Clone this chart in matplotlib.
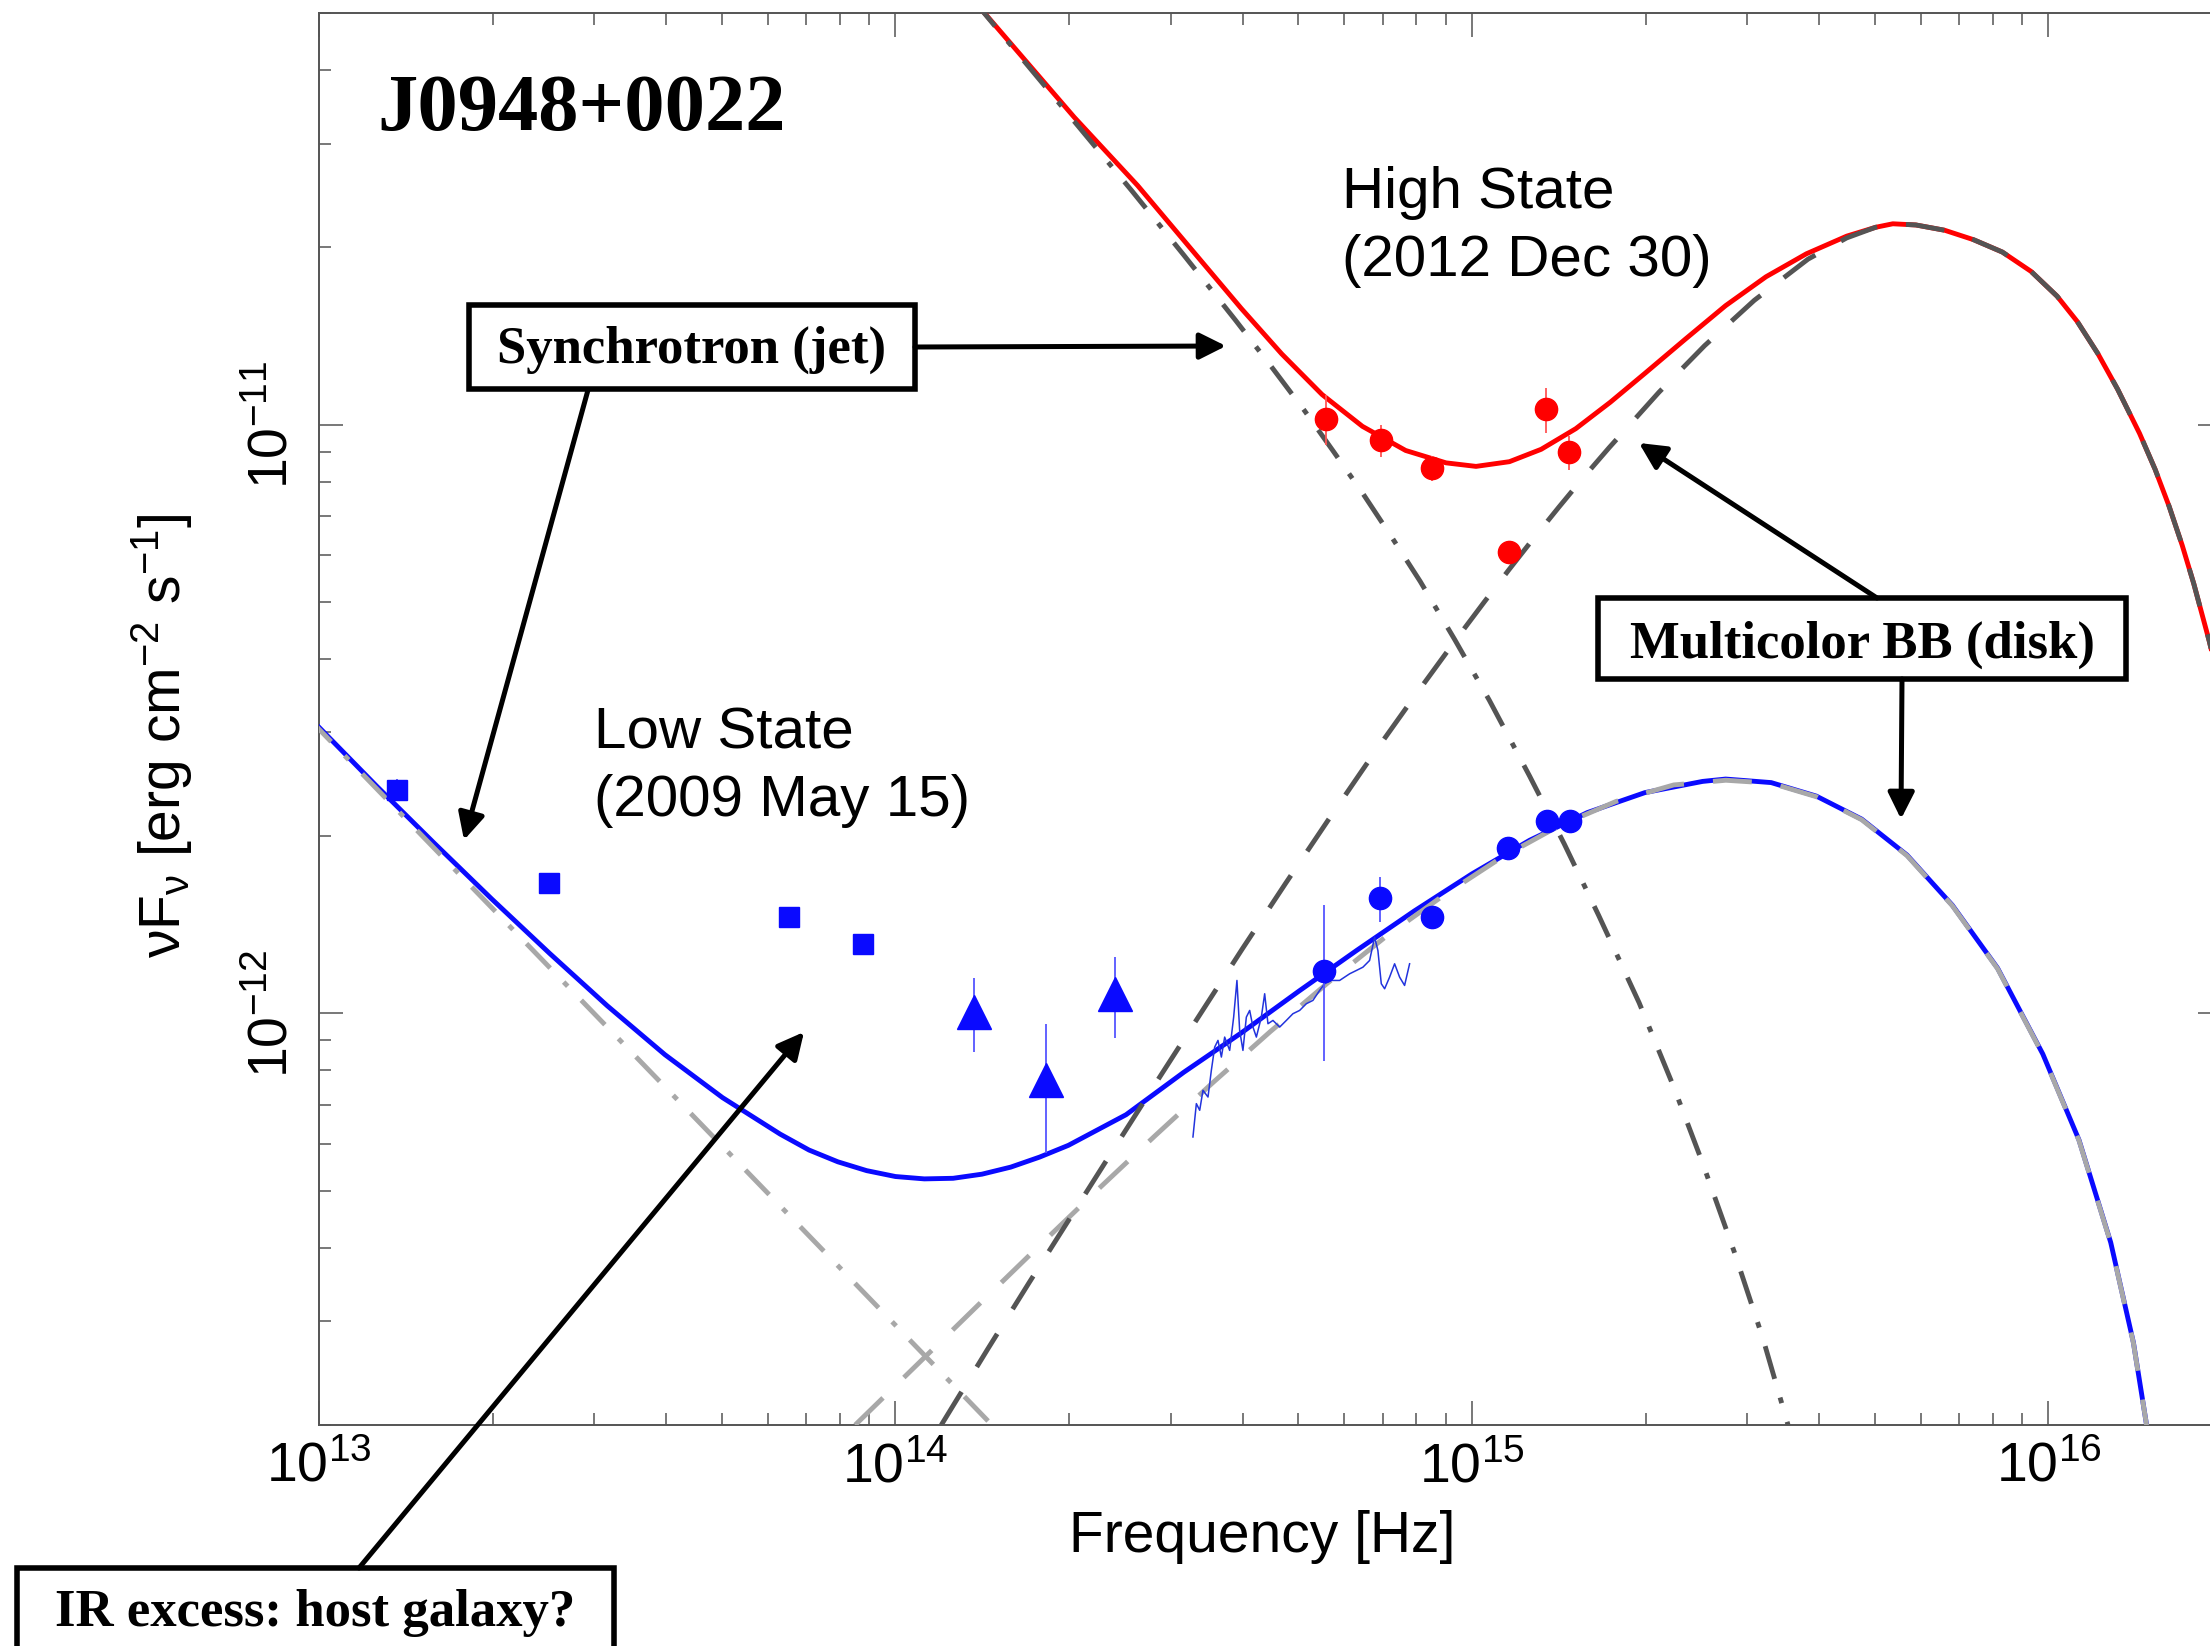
import numpy as np
import matplotlib
matplotlib.use("Agg")
import matplotlib.pyplot as plt
from matplotlib.patches import Rectangle, FancyArrowPatch
from matplotlib.ticker import NullFormatter, FixedLocator, LogFormatterSciNotation

plt.rcParams['font.family'] = ['Liberation Sans', 'DejaVu Sans']
plt.rcParams['mathtext.fontset'] = 'custom'
plt.rcParams['mathtext.rm'] = 'Liberation Sans'
plt.rcParams['mathtext.it'] = 'Liberation Sans:italic'
plt.rcParams['mathtext.default'] = 'regular'

# ---------------- data ----------------
# high state (2012 Dec 30) photometry
hi_nu = [5.58e14, 6.95e14, 8.54e14, 1.16e15, 1.346e15, 1.475e15]
hi_flux = [1.022e-11, 9.40e-12, 8.43e-12, 6.07e-12, 1.061e-11, 8.98e-12]
hi_err = [1.0e-12, 5.8e-13, 4.0e-13, 2.5e-13, 9.4e-13, 6.0e-13]

# low state (2009 May 15) photometry
lo_sq_nu = [1.365e13, 2.502e13, 6.523e13, 8.80e13]
lo_sq_flux = [2.398e-12, 1.664e-12, 1.458e-12, 1.313e-12]
lo_sq_err = [1.0e-13, 4e-14, 3e-14, 3e-14]

lo_tri_nu = [1.366e14, 1.822e14, 2.399e14]
lo_tri_flux = [1.004e-12, 7.70e-13, 1.077e-12]
lo_tri_err = [1.45e-13, 1.9e-13, 1.7e-13]

lo_ci_nu = [5.548e14, 6.928e14, 8.54e14, 1.157e15, 1.351e15, 1.480e15]
lo_ci_flux = [1.180e-12, 1.568e-12, 1.457e-12, 1.906e-12, 2.123e-12, 2.123e-12]
lo_ci_err = [3.5e-13, 1.4e-13, 5e-14, 8e-14, 8e-14, 8e-14]

# tick positions
x_ticks = [1e13, 1e14, 1e15, 1e16]
y_ticks = [1e-12, 1e-11]

# low state optical spectrum (log10 nu, log10 nuFnu)
spec_lognu = [14.516, 14.5219, 14.5277, 14.5334, 14.5421, 14.5479, 14.5537, 14.5594,
              14.5653, 14.571, 14.5797, 14.5866, 14.5923, 14.597, 14.6027, 14.6086,
              14.6144, 14.6201, 14.626, 14.6346, 14.6404, 14.6461, 14.6548, 14.6664,
              14.678, 14.6894, 14.7011, 14.7127, 14.7241, 14.7357, 14.7444, 14.756,
              14.7704, 14.7878, 14.7994, 14.8108, 14.8224, 14.8311, 14.8368, 14.8427,
              14.8485, 14.8571, 14.8658, 14.8745, 14.8831, 14.8918]
spec_logf = [-12.2098, -12.1532, -12.1645, -12.1306, -12.142, -12.0967, -12.0572, -12.0458,
             -12.0741, -12.0402, -12.0628, -12.0063, -11.944, -12.0288, -12.0628, -12.0063,
             -11.9949, -12.0232, -12.0402, -12.0063, -11.9666, -12.0175, -12.0119, -12.0232,
             -12.0119, -12.0005, -11.9949, -11.9835, -11.9779, -11.961, -11.9496, -11.944,
             -11.944, -11.9327, -11.9271, -11.9215, -11.9101, -11.8706, -11.8931, -11.9496,
             -11.9581, -11.9384, -11.9157, -11.9384, -11.9525, -11.9157]

# high state model: synchrotron (jet)
hi_sync_lognu = [14.135, 14.31, 14.41, 14.50, 14.59, 14.65, 14.71, 14.76, 14.81, 14.86,
                 14.91, 14.97, 15.03, 15.10, 15.16, 15.22, 15.29, 15.35, 15.40, 15.455,
                 15.505, 15.545, 15.553]
hi_sync_logf = [-10.279, -10.485, -10.603, -10.712, -10.823, -10.899, -10.977, -11.046,
                -11.116, -11.190, -11.266, -11.365, -11.468, -11.597, -11.712, -11.834,
                -11.982, -12.125, -12.254, -12.405, -12.553, -12.688, -12.715]

# high state model: multicolor black body (disk)
hi_disk_lognu = [14.0794, 14.16, 14.2313, 14.3069, 14.3742, 14.4498, 14.5254, 14.6012,
                 14.6768, 14.7524, 14.828, 14.90, 14.9716, 15.0215, 15.0645, 15.1006,
                 15.1509, 15.194, 15.2381, 15.3244, 15.4035, 15.4897, 15.583, 15.65,
                 15.70, 15.73, 15.77, 15.82, 15.87, 15.92, 15.97, 16.015, 16.05, 16.086,
                 16.12, 16.158, 16.185, 16.209, 16.232, 16.252, 16.279, 16.305]
hi_disk_logf = [-12.699, -12.570, -12.458, -12.341, -12.237, -12.121, -12.006, -11.891,
                -11.779, -11.669, -11.561, -11.462, -11.366, -11.301, -11.246, -11.201,
                -11.140, -11.089, -11.039, -10.945, -10.866, -10.789, -10.719, -10.683,
                -10.665, -10.659, -10.661, -10.670, -10.686, -10.707, -10.740, -10.782,
                -10.825, -10.880, -10.940, -11.015, -11.076, -11.138, -11.205, -11.270,
                -11.368, -11.475]

# high state model: total
hi_tot_lognu = [14.135, 14.31, 14.42, 14.525, 14.60, 14.67, 14.74, 14.81, 14.885, 14.955,
                15.007, 15.065, 15.12, 15.18, 15.24, 15.30, 15.37, 15.44, 15.51, 15.58,
                15.65, 15.70, 15.73, 15.77, 15.82, 15.87, 15.92, 15.97, 16.015, 16.05,
                16.086, 16.12, 16.158, 16.185, 16.209, 16.232, 16.252, 16.279, 16.305]
hi_tot_logf = [-10.279, -10.478, -10.594, -10.716, -10.803, -10.880, -10.949, -11.003,
               -11.044, -11.065, -11.071, -11.063, -11.042, -11.007, -10.962, -10.913,
               -10.855, -10.798, -10.749, -10.710, -10.680, -10.665, -10.659, -10.661,
               -10.670, -10.686, -10.707, -10.740, -10.782, -10.825, -10.880, -10.940,
               -11.015, -11.076, -11.138, -11.205, -11.270, -11.368, -11.475]

# low state model: synchrotron (jet)
lo_sync_lognu = [12.98, 13.4, 13.8, 14.19]
lo_sync_logf = [-11.497, -11.922, -12.327, -12.722]

# low state model: multicolor black body (disk)
lo_disk_lognu = [13.93, 14.06, 14.15, 14.25, 14.35, 14.45, 14.55, 14.65, 14.75, 14.85,
                 14.95, 15.05, 15.15, 15.25, 15.35, 15.4404, 15.519, 15.5975, 15.676,
                 15.7546, 15.8331, 15.9117, 15.9902, 16.053, 16.108, 16.1474, 16.172]
lo_disk_logf = [-12.699, -12.575, -12.489, -12.394, -12.300, -12.208, -12.118, -12.031,
                -11.948, -11.870, -11.800, -11.736, -11.682, -11.640, -11.612, -11.604,
                -11.609, -11.632, -11.671, -11.732, -11.817, -11.924, -12.070, -12.216,
                -12.390, -12.560, -12.710]

# low state model: total
lo_tot_lognu = [12.98, 13.0, 13.1, 13.2, 13.3, 13.4, 13.5, 13.6, 13.7, 13.8, 13.85, 13.9,
                13.95, 14.0, 14.05, 14.1, 14.15, 14.2, 14.25, 14.3, 14.4, 14.5, 14.6, 14.7,
                14.8, 14.9, 15.0, 15.1, 15.2, 15.3, 15.4, 15.44, 15.519, 15.5975, 15.676,
                15.7546, 15.8331, 15.9117, 15.9902, 16.053, 16.108, 16.1474, 16.172]
lo_tot_logf = [-11.494, -11.514, -11.614, -11.711, -11.806, -11.898, -11.987, -12.070,
               -12.143, -12.205, -12.232, -12.252, -12.267, -12.277, -12.281, -12.280,
               -12.273, -12.261, -12.244, -12.224, -12.172, -12.100, -12.033, -11.962,
               -11.893, -11.826, -11.763, -11.706, -11.659, -11.625, -11.606, -11.602,
               -11.608, -11.631, -11.670, -11.731, -11.816, -11.923, -12.069, -12.215,
               -12.389, -12.559, -12.710]

W, H = 2210, 1646


def fxy(x, y):
    # pixel position (from top-left) -> figure fraction
    return x / W, 1 - y / H


fig = plt.figure(figsize=(W / 100, H / 100), dpi=100)
ax = fig.add_axes([319 / W, 1 - 1425 / H, (2222 - 319) / W, (1425 - 13) / H])


def lin(a):
    return 10 ** np.array(a)


dark = '#545454'
light = '#a8a8a8'
lw = 3.5

ax.plot(lin(lo_tot_lognu), lin(lo_tot_logf), color='#0a0aff', lw=lw, zorder=3)
ax.plot(lin(lo_sync_lognu), lin(lo_sync_logf), color=light, lw=lw, dashes=(7, 4, 1.2, 4), zorder=4)
ax.plot(lin(lo_disk_lognu), lin(lo_disk_logf), color=light, lw=lw, dashes=(8, 6), zorder=4)

ax.plot(lin(hi_tot_lognu), lin(hi_tot_logf), color='#ff0000', lw=lw, zorder=3)
ax.plot(lin(hi_sync_lognu), lin(hi_sync_logf), color=dark, lw=lw, dashes=(7, 4, 1.2, 4), zorder=4)
ax.plot(lin(hi_disk_lognu), lin(hi_disk_logf), color=dark, lw=lw, dashes=(8, 6), zorder=4)

ax.plot(lin(spec_lognu), lin(spec_logf), color='#2233dd', lw=1.1, zorder=5)

ax.errorbar(hi_nu, hi_flux, yerr=hi_err, fmt='o', ms=16, color='#ff0000',
            ecolor='#ff5555', elinewidth=1.3, capsize=0, zorder=6)
ax.errorbar(lo_sq_nu, lo_sq_flux, yerr=lo_sq_err, fmt='s', ms=14, color='#0a0aff',
            ecolor='#5555ff', elinewidth=1.3, capsize=0, zorder=6)
ax.errorbar(lo_tri_nu, lo_tri_flux, yerr=lo_tri_err, fmt='^', ms=24, color='#0a0aff',
            ecolor='#5555ff', elinewidth=1.3, capsize=0, zorder=6)
ax.errorbar(lo_ci_nu, lo_ci_flux, yerr=lo_ci_err, fmt='o', ms=16, color='#0a0aff',
            ecolor='#5555ff', elinewidth=1.3, capsize=0, zorder=6)

ax.set_xscale('log')
ax.set_yscale('log')
ax.set_xlim(1e13, 2e16)
ax.set_ylim(2e-13, 5e-11)
ax.xaxis.set_major_locator(FixedLocator(x_ticks))
ax.yaxis.set_major_locator(FixedLocator(y_ticks))
ax.xaxis.set_major_formatter(LogFormatterSciNotation())
ax.yaxis.set_major_formatter(LogFormatterSciNotation())
ax.xaxis.set_minor_formatter(NullFormatter())
ax.yaxis.set_minor_formatter(NullFormatter())

ax.tick_params(which='both', direction='in', top=True, right=True, color=dark, width=1.1)
ax.tick_params(which='major', length=17)
ax.tick_params(which='minor', length=8.5, labelleft=False, labelbottom=False)
ax.tick_params(axis='x', labelsize=40, pad=12)
ax.tick_params(axis='y', labelsize=40, pad=14, labelrotation=90)
plt.setp(ax.yaxis.get_majorticklabels(), va='center')
for s in ax.spines.values():
    s.set_color(dark)
    s.set_linewidth(1.4)

ax.set_xlabel('Frequency [Hz]', fontsize=41)
ax.xaxis.set_label_coords(0.4959, -0.060)
ax.set_ylabel(r'$\nu F_\nu$ [erg cm$^{-2}$ s$^{-1}$]', fontsize=41)
ax.yaxis.set_label_coords(-0.065, 0.488)

# state labels
fig.text(*fxy(1342, 208), 'High State', fontsize=42, va='baseline')
fig.text(*fxy(1342, 276), '(2012 Dec 30)', fontsize=42, va='baseline')
fig.text(*fxy(594, 748), 'Low State', fontsize=42, va='baseline')
fig.text(*fxy(594, 816), '(2009 May 15)', fontsize=42, va='baseline')

serif = ['Liberation Serif', 'DejaVu Serif']
fig.text(*fxy(377, 130), 'J0948+0022', family=serif, weight='bold', fontsize=58, va='baseline')

# boxed annotations (x0, y0, x1, y1 in pixels from top-left)
boxes = [
    ((469, 305, 915, 389), 'Synchrotron (jet)', (692, 363)),
    ((1598, 598, 2126, 679), 'Multicolor BB (disk)', (1862, 658)),
    ((17, 1568, 614, 1662), 'IR excess: host galaxy?', (315, 1626)),
]
for (x0, y0, x1, y1), label, (tx, ty) in boxes:
    bx, by = fxy(x0, y1)
    rect = Rectangle((bx, by), (x1 - x0) / W, (y1 - y0) / H, transform=fig.transFigure,
                     facecolor='white', edgecolor='black', lw=4, zorder=5)
    fig.add_artist(rect)
    fig.text(*fxy(tx, ty), label, family=serif, weight='bold', fontsize=38,
             ha='center', va='baseline', zorder=6)

arrows = [
    ((915, 347), (1226, 346)),
    ((588, 390), (464, 840)),
    ((359, 1568), (804, 1032)),
    ((1877, 598), (1639, 443)),
    ((1902, 679), (1901, 819)),
]
for start, tip in arrows:
    arr = FancyArrowPatch(fxy(*start), fxy(*tip), transform=fig.transFigure,
                          arrowstyle='-|>,head_length=0.4,head_width=0.2',
                          mutation_scale=40, lw=3.6, color='black',
                          shrinkA=0, shrinkB=0, zorder=6)
    fig.add_artist(arr)

fig.savefig('out.png', dpi=100)
